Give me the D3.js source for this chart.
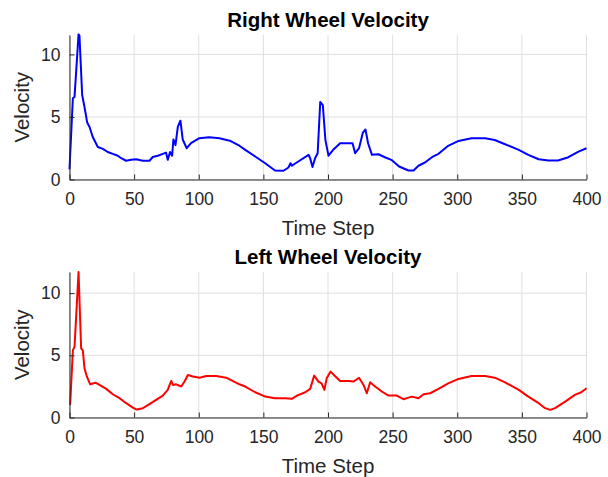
<!DOCTYPE html>
<meta charset="utf-8">
<style>

body {
  margin: 0;
  background: #fff;
}

text {
  font-family: "Liberation Sans", Arial, sans-serif;
  fill: #262626;
}

.grid line {
  stroke: #dfdfdf;
  stroke-width: 1px;
}

.axis path, .axis line {
  stroke: #262626;
  stroke-width: 1px;
}

.axis text {
  font-size: 17.5px;
}

.label {
  font-size: 20.5px;
}

.title {
  font-size: 20.5px;
  font-weight: bold;
  fill: #000;
}

</style>
<body>
<script src="https://cdnjs.cloudflare.com/ajax/libs/d3/7.8.5/d3.min.js"></script>
<script>

var width = 608,
    height = 477;

// x ticks / y ticks shared by both panels
var xTicks = [0, 50, 100, 150, 200, 250, 300, 350, 400];
var yTicks = [0, 5, 10];

// right wheel
var rightStep = [0, 2.6, 3.9, 7, 7.7, 9.8, 11.6, 13.7, 15.5, 18, 21.9, 25.8, 29.6, 33.5, 37.4, 40, 43.8, 47.7,
  51.5, 56.7, 61.9, 64.4, 68.3, 72.2, 74.7, 76, 77.8, 79.4, 80.4, 82, 83.8, 85.8, 87.6, 90.7, 94, 100.5,
  108, 116, 124, 131.4, 136, 143.7, 151.4, 159, 165.6, 169.4, 171, 172, 177, 185, 186.2, 188, 190, 192,
  194, 196, 198, 200.4, 204, 209.4, 214.6, 219, 221, 224, 227, 229, 231, 234, 239, 244, 249, 255, 262.3,
  266.2, 270, 275, 280.4, 285.5, 293, 301, 311, 321.6, 329, 337, 347.6, 355, 363, 370.6, 378, 386, 393.8, 400];
var rightVel = [0.82, 6.5, 6.6, 11.6, 11.5, 6.75, 5.8, 4.55, 4.2, 3.4, 2.6, 2.45, 2.2, 2.05, 1.9, 1.7, 1.5, 1.57,
  1.62, 1.5, 1.5, 1.8, 1.9, 2.05, 2.15, 1.57, 2.2, 1.9, 3.2, 2.75, 4.2, 4.7, 3.2, 2.5, 2.9, 3.3,
  3.38, 3.3, 3.1, 2.7, 2.37, 1.84, 1.3, 0.72, 0.7, 0.96, 1.3, 1.1, 1.44, 1.97, 1.7, 1.0, 1.7, 2.1,
  6.2, 5.95, 3.15, 1.9, 2.37, 2.9, 2.9, 2.9, 2.1, 2.5, 3.75, 4.0, 2.9, 1.97, 2.02, 1.78, 1.57, 1.04, 0.72,
  0.72, 1.1, 1.36, 1.78, 2.05, 2.69, 3.08, 3.3, 3.3, 3.16, 2.82, 2.37, 1.97, 1.62, 1.52, 1.52, 1.78, 2.23, 2.5];

// left wheel
var leftStep = [0.5, 2.6, 3.9, 7, 9, 10.3, 11.6, 13.4, 16, 20.1, 23.2, 28.4, 33.5, 38.7, 43.9, 49, 52, 56.8,
  61.9, 67, 72.2, 76, 78.7, 80, 82.5, 86.4, 89, 91.6, 95.4, 100.6, 105.8, 113.5, 121.2, 131.5,
  136, 143.7, 151.4, 159, 166.9, 172, 176, 182.4, 186.2, 189.3, 192.6, 195, 197.2, 199, 202, 204,
  209.4, 215.9, 219.7, 224, 227.5, 230, 232.6, 235, 241.6, 246.8, 253.2, 258.4, 262.3,
  264.9, 270, 274, 279, 285.5, 293, 301, 311, 321.6, 329, 337, 347.6, 355, 363, 368, 371.9, 375.7,
  383.5, 391, 396, 400];
var leftVel = [1.0, 5.4, 5.7, 11.7, 5.56, 5.4, 3.96, 3.3, 2.67, 2.8, 2.62, 2.3, 1.87, 1.55, 1.15, 0.8, 0.64, 0.75,
  1.07, 1.42, 1.76, 2.22, 2.94, 2.62, 2.67, 2.49, 2.89, 3.42, 3.3, 3.2, 3.34, 3.34, 3.2, 2.67,
  2.49, 2.03, 1.68, 1.55, 1.55, 1.5, 1.76, 2.03, 2.3, 3.37, 2.89, 2.75, 2.22, 3.16, 3.69, 3.48,
  2.94, 2.94, 2.89, 3.2, 2.62, 1.95, 2.83, 2.62, 2.09, 1.76, 1.76, 1.47, 1.6,
  1.68, 1.55, 1.87, 1.95, 2.3, 2.75, 3.1, 3.34, 3.34, 3.2, 2.83, 2.22, 1.68, 1.15, 0.75, 0.61, 0.75,
  1.28, 1.82, 2.03, 2.35];

var svg = d3.select("body").append("svg")
    .attr("width", width)
    .attr("height", height);

var x = d3.scaleLinear()
    .domain([0, 400])
    .range([69.5, 586.5]);

var drawPanel = function(d) {

  var y = d3.scaleLinear()
      .domain([0, d.ymax])
      .range([d.bottom, d.top]);

  var g = svg.append("g");

  // grid
  g.append("g")
      .attr("class", "grid")
      .selectAll("line")
      .data(xTicks)
    .enter().append("line")
      .attr("x1", x).attr("x2", x)
      .attr("y1", d.top).attr("y2", d.bottom);

  g.append("g")
      .attr("class", "grid")
      .selectAll("line")
      .data(yTicks)
    .enter().append("line")
      .attr("x1", x(0)).attr("x2", x(400))
      .attr("y1", y).attr("y2", y);

  // the line itself
  var line = d3.line()
      .x(function(i) { return x(d.xs[i]); })
      .y(function(i) { return y(d.ys[i]); });

  g.append("path")
      .datum(d3.range(d.xs.length))
      .attr("d", line)
      .attr("fill", "none")
      .attr("stroke", d.color)
      .attr("stroke-width", 2)
      .attr("stroke-linejoin", "round");

  // axes
  g.append("g")
      .attr("class", "axis")
      .attr("transform", "translate(0," + d.bottom + ")")
      .call(d3.axisBottom(x).tickValues(xTicks).tickSize(-5).tickPadding(13).tickSizeOuter(0));

  g.append("g")
      .attr("class", "axis")
      .attr("transform", "translate(" + x(0) + ",0)")
      .call(d3.axisLeft(y).tickValues(yTicks).tickSize(-5).tickPadding(9).tickSizeOuter(0));

  g.append("text")
      .attr("class", "label")
      .attr("x", (x(0) + x(400)) / 2)
      .attr("y", d.bottom + 55)
      .attr("text-anchor", "middle")
      .text("Time Step");

  g.append("text")
      .attr("class", "label")
      .attr("transform", "translate(29," + (d.top + d.bottom) / 2 + ")rotate(-90)")
      .attr("text-anchor", "middle")
      .text("Velocity");

  g.append("text")
      .attr("class", "title")
      .attr("x", (x(0) + x(400)) / 2)
      .attr("y", d.top - 8)
      .attr("text-anchor", "middle")
      .text(d.title);
}

drawPanel({ title: "Right Wheel Velocity", xs: rightStep, ys: rightVel, color: "#0000ff",
            top: 35, bottom: 179.5, ymax: 11.55 });

drawPanel({ title: "Left Wheel Velocity", xs: leftStep, ys: leftVel, color: "#ff0000",
            top: 272, bottom: 417.5, ymax: 11.7 });

</script>
